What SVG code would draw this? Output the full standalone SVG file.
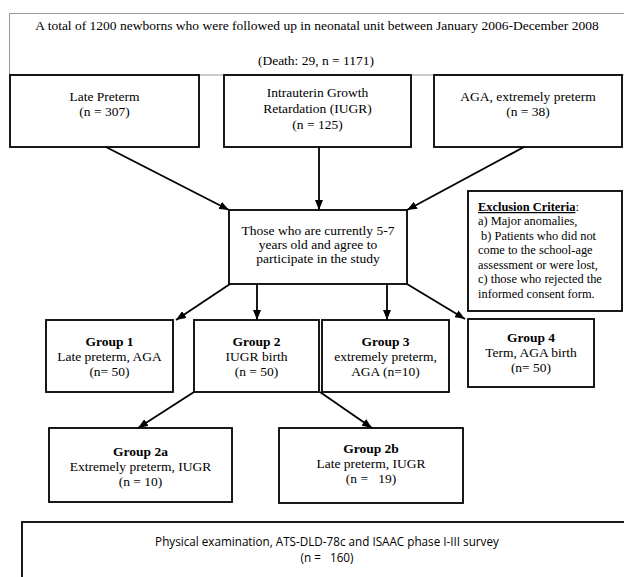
<svg xmlns="http://www.w3.org/2000/svg" width="624" height="577" viewBox="0 0 624 577">
<style>
.bx{fill:#fff;stroke:#000;stroke-width:1.8}
.t{font-family:"Liberation Serif","Times New Roman",serif;font-size:13.5px;fill:#000;text-anchor:middle}
.b{font-weight:bold}
.s{font-family:"Liberation Serif","Times New Roman",serif;font-size:12.4px;fill:#000}
.sans{font-family:"Open Sans","Liberation Sans",sans-serif;font-size:11.7px;fill:#000;text-anchor:middle}
.ar{stroke:#000;stroke-width:1.8;fill:none;marker-end:url(#ah)}
</style>
<defs>
<marker id="ah" markerUnits="userSpaceOnUse" markerWidth="10" markerHeight="8" viewBox="0 0 10 8" refX="10" refY="4" orient="auto">
<path d="M0,0 L10,4 L0,8 z" fill="#000"/>
</marker>
</defs>
<rect width="624" height="577" fill="#fff"/>
<g id="top">
<rect x="9.5" y="13.5" width="616" height="61.5" fill="#fff" stroke="#999" stroke-width="1"/>
<text class="t" x="317" y="30">A total of 1200 newborns who were followed up in neonatal unit between January 2006-December 2008</text>
<text class="t" x="316" y="65">(Death: 29, n = 1171)</text>
</g>
<g id="late">
<rect class="bx" x="10" y="75" width="189" height="72"/>
<text class="t" x="104.5" y="101">Late Preterm</text>
<text class="t" x="104.5" y="116">(n = 307)</text>
</g>
<g id="iugr">
<rect class="bx" x="224" y="75" width="187" height="72"/>
<text class="t" x="317.5" y="97">Intrauterin Growth</text>
<text class="t" x="317.5" y="113">Retardation (IUGR)</text>
<text class="t" x="317.5" y="129">(n = 125)</text>
</g>
<g id="aga">
<rect class="bx" x="434" y="75" width="188" height="72"/>
<text class="t" x="528" y="101">AGA, extremely preterm</text>
<text class="t" x="528" y="116">(n = 38)</text>
</g>
<g id="center">
<rect class="bx" x="229" y="210" width="178" height="74"/>
<text class="t" x="318" y="235">Those who are currently 5-7</text>
<text class="t" x="318" y="249">years old and agree to</text>
<text class="t" x="318" y="263">participate in the study</text>
</g>
<g id="exclusion">
<rect class="bx" x="468" y="191" width="154" height="120"/>
<text class="s" x="478" y="211"><tspan font-weight="bold" text-decoration="underline">Exclusion Criteria</tspan>:</text>
<text class="s" x="478" y="225">a) Major anomalies,</text>
<text class="s" x="478" y="240" xml:space="preserve"> b) Patients who did not</text>
<text class="s" x="478" y="254">come to the school-age</text>
<text class="s" x="478" y="269">assessment or were lost,</text>
<text class="s" x="478" y="283">c) those who rejected the</text>
<text class="s" x="478" y="298">informed consent form.</text>
</g>
<g id="g1">
<rect class="bx" x="46" y="320" width="127" height="72"/>
<text class="t b" x="109.5" y="346">Group 1</text>
<text class="t" x="109.5" y="361">Late preterm, AGA</text>
<text class="t" x="109.5" y="376">(n= 50)</text>
</g>
<g id="g2">
<rect class="bx" x="194" y="320" width="125" height="72"/>
<text class="t b" x="256.5" y="346">Group 2</text>
<text class="t" x="256.5" y="361">IUGR birth</text>
<text class="t" x="256.5" y="376">(n = 50)</text>
</g>
<g id="g3">
<rect class="bx" x="322" y="320" width="127" height="72"/>
<text class="t b" x="385.5" y="346">Group 3</text>
<text class="t" x="385.5" y="361">extremely preterm,</text>
<text class="t" x="385.5" y="376">AGA (n=10)</text>
</g>
<g id="g4">
<rect class="bx" x="468" y="319" width="126" height="68"/>
<text class="t b" x="531" y="342">Group 4</text>
<text class="t" x="531" y="357">Term, AGA birth</text>
<text class="t" x="531" y="372">(n= 50)</text>
</g>
<g id="g2a">
<rect class="bx" x="49" y="428" width="183" height="74"/>
<text class="t b" x="140.5" y="456">Group 2a</text>
<text class="t" x="140.5" y="471">Extremely preterm, IUGR</text>
<text class="t" x="140.5" y="486">(n = 10)</text>
</g>
<g id="g2b">
<rect class="bx" x="279" y="428" width="184" height="75"/>
<text class="t b" x="371" y="453">Group 2b</text>
<text class="t" x="371" y="468">Late preterm, IUGR</text>
<text class="t" x="371" y="483" xml:space="preserve">(n =   19)</text>
</g>
<g id="survey">
<rect class="bx" x="22" y="522" width="620" height="70"/>
<text class="sans" x="327" y="546">Physical examination, ATS-DLD-78c and ISAAC phase I-III survey</text>
<text class="sans" x="327" y="562" xml:space="preserve">(n =   160)</text>
</g>
<g id="connectors">
<line class="ar" x1="106" y1="147" x2="229" y2="210"/>
<line class="ar" x1="319" y1="147" x2="319" y2="210"/>
<line class="ar" x1="524" y1="147" x2="407" y2="210"/>
<line class="ar" x1="230" y1="284" x2="176" y2="320"/>
<line class="ar" x1="257" y1="284" x2="257" y2="320"/>
<line class="ar" x1="387" y1="284" x2="387" y2="320"/>
<line class="ar" x1="407" y1="284" x2="465" y2="319"/>
<line class="ar" x1="194" y1="392" x2="138" y2="428"/>
<line class="ar" x1="320" y1="392" x2="372" y2="428"/>
</g>
</svg>
